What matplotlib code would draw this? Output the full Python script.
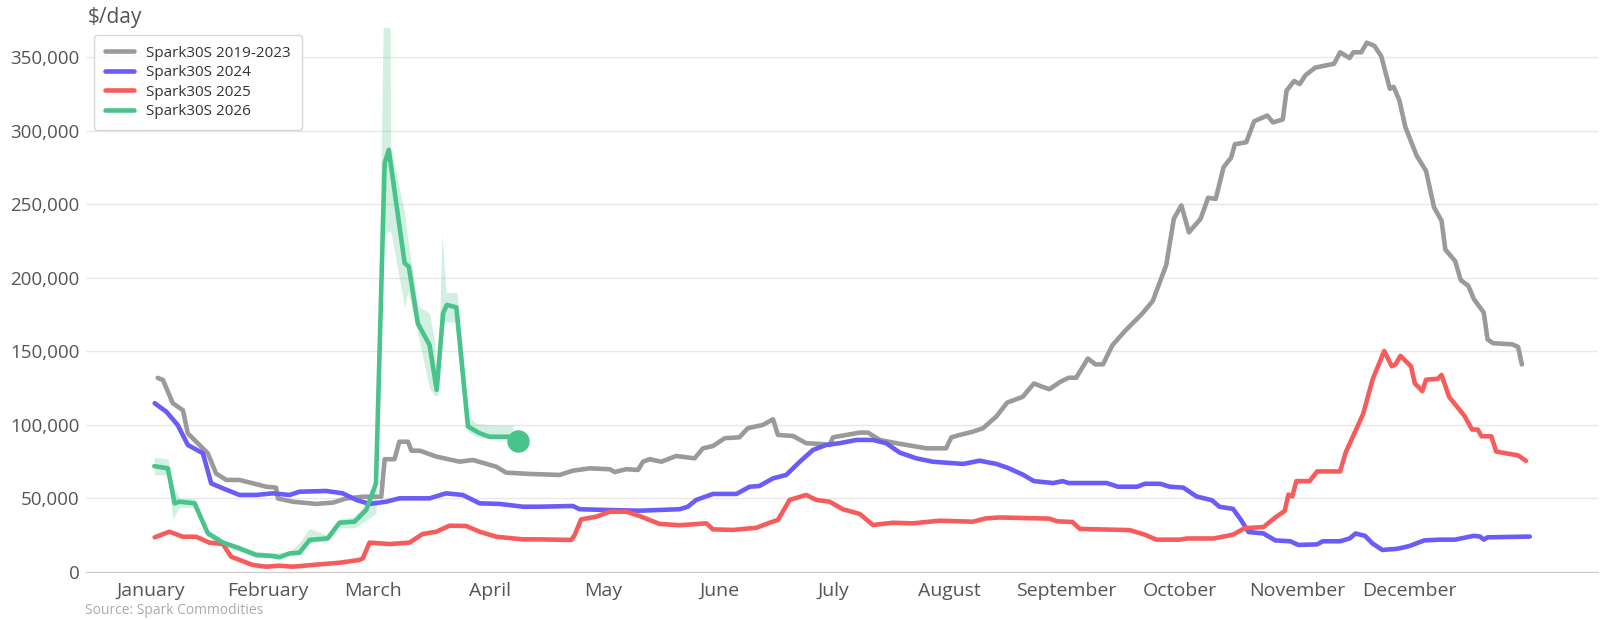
import numpy as np
import matplotlib
matplotlib.use("Agg")
import matplotlib.pyplot as plt
from matplotlib.ticker import FuncFormatter

plt.rcParams['font.family'] = ['Open Sans', 'DejaVu Sans']

# x = day of year, y = $/day
months = ["January", "February", "March", "April", "May", "June", "July",
          "August", "September", "October", "November", "December"]
month_start = [0, 31, 59, 90, 120, 151, 181, 212, 243, 273, 304, 334]

gray = [(1.9, 132000), (3.3, 130600), (5.9, 114800), (8.6, 110000), (9.9, 94300),
        (13.9, 84000), (15.2, 80700), (17.4, 67000), (20.1, 62600), (23.6, 62600),
        (27.1, 60300), (30.7, 58000), (33.3, 57400), (33.8, 50000), (37.7, 47800),
        (44, 46300), (48.4, 47200), (51.9, 50000), (56.3, 51200), (61.2, 51200),
        (62.1, 76700), (64.7, 76700), (66, 88600), (68.3, 88600), (69.2, 82500),
        (71.4, 82500), (75.8, 78500), (82, 75000), (85.5, 76200), (91.7, 71600),
        (94.3, 67600), (100.5, 66700), (108.5, 66000), (112, 68900), (116.4, 70500),
        (121.8, 69900), (123.1, 68000), (126.2, 69900), (129.3, 69400), (130.6, 75000),
        (132.4, 76700), (135.5, 75000), (139.4, 78900), (144.3, 77300), (146.5, 84100),
        (149.2, 85700), (152.3, 91000), (156.2, 91600), (158.4, 97800), (162.4, 100000),
        (165.1, 103900), (166.4, 93200), (170.4, 92500), (173.9, 87600), (177.5, 87100),
        (180.1, 86400), (181, 91600), (184.5, 93200), (188.1, 94800), (190.3, 94800),
        (193.4, 89800), (197.8, 87600), (202.2, 85700), (205.8, 84100), (211, 84100),
        (212.4, 91600), (214.6, 93200), (218.1, 95400), (220.8, 97800), (224.3, 105700),
        (227.2, 115200), (231.3, 119100), (234.3, 128200), (236.4, 126100), (238.4, 124300),
        (241.4, 129500), (243.5, 132100), (245.5, 132100), (248.6, 145200), (250.6, 141200),
        (252.6, 141200), (255.1, 154200), (258.7, 164600), (262.8, 175100), (265.8, 184200),
        (269.4, 208900), (271.4, 240200), (273.4, 249300), (275.4, 231000), (278.5, 240200),
        (280.5, 254500), (282.5, 253700), (284.6, 275300), (286.6, 281800), (287.6, 290900),
        (290.6, 292200), (292.7, 306500), (296.2, 310400), (297.7, 305700), (300.3, 307800),
        (301.3, 327400), (303.3, 333900), (304.8, 331800), (306.3, 337800), (308.9, 343000),
        (311.4, 344300), (313.9, 345600), (315.5, 353400), (318, 349500), (319, 353400),
        (321.1, 353400), (322.6, 359900), (324.6, 357800), (326.4, 350800), (328.7, 328600),
        (329.7, 329900), (331.2, 320800), (332.8, 302600), (335.8, 283100), (338.3, 272700),
        (340.4, 248000), (342.4, 238900), (343.4, 219300), (346, 211500), (347.5, 198500),
        (349.5, 194600), (351, 185500), (353.6, 176400), (354.6, 158200), (356.1, 155600),
        (361.2, 154800), (362.7, 153000), (363.7, 141200)]

blue = [(1.1, 114800), (4.2, 109000), (7.2, 100000), (9.9, 86400), (13.9, 80700),
        (16.1, 60300), (19.2, 56900), (23.6, 52400), (28, 52400), (32.4, 53500),
        (36.9, 52400), (39.5, 54600), (46.6, 55100), (51, 53500), (54.6, 49000),
        (58.1, 46300), (62.5, 47800), (66, 50100), (74, 50100), (78.4, 53500),
        (82.8, 52400), (87.3, 46700), (92.6, 46300), (98.8, 44400), (103.2, 44400),
        (112, 44900), (113.8, 42700), (120.9, 42200), (129.7, 41700), (140.3, 42700),
        (142.5, 44400), (144.7, 49000), (149.2, 53100), (155.4, 53100), (158.9, 58000),
        (161.5, 58500), (165.1, 63700), (168.6, 66000), (172.2, 75000), (175.7, 83000),
        (179.2, 86400), (182.8, 87600), (187.2, 89800), (191.6, 89800), (195.1, 87600),
        (198.7, 81200), (203.1, 77300), (207.5, 75000), (215.5, 73500), (219.9, 75700),
        (224.3, 73500), (227.2, 71000), (231.3, 66300), (234.3, 61800), (239.4, 60500),
        (241.9, 61800), (243.5, 60500), (253.6, 60500), (256.6, 58000), (261.7, 58000),
        (263.7, 60000), (267.8, 60000), (270.3, 58000), (273.9, 57400), (277.4, 51400),
        (281.5, 48800), (283.5, 44400), (287.1, 42900), (289.1, 35800), (291.2, 27200),
        (295.2, 26200), (298.3, 21500), (302.3, 20900), (304.4, 18400), (309.4, 18800),
        (310.9, 20900), (315.5, 20900), (318, 22800), (319.6, 26200), (322.1, 24600),
        (324.1, 19400), (326.7, 15000), (330.7, 15800), (333.8, 17600), (337.8, 21500),
        (341.9, 22000), (345.9, 22000), (351, 24600), (352.6, 24100), (353.6, 22000),
        (354.6, 23600), (365.8, 24100)]

red = [(1.1, 23600), (5, 27400), (8.6, 24000), (12.1, 24000), (15.6, 20000),
       (19.2, 19000), (21.4, 10400), (27.1, 4800), (30.7, 3600), (34.2, 4300),
       (37.7, 3600), (43, 4800), (50.1, 6300), (55.4, 8200), (56.3, 9300),
       (58.1, 20000), (63.4, 19000), (68.7, 20000), (72.2, 25900), (75.8, 27400),
       (79.3, 31500), (83.7, 31300), (87.3, 27400), (91.7, 24000), (98.8, 22200),
       (103.2, 22200), (111.6, 21800), (112.5, 25200), (114.2, 35800), (118.2, 37600),
       (121.8, 41000), (126.2, 41000), (129.7, 38100), (135, 32700), (140.3, 31800),
       (147.4, 33100), (149.2, 29000), (154.5, 28600), (160.7, 30100), (164.2, 33500),
       (166.4, 35400), (169.5, 49000), (173.9, 52400), (176.6, 49000), (180.1, 47800),
       (183.6, 42700), (188.1, 39500), (191.6, 32000), (196.9, 33500), (202.2, 33100),
       (209.3, 34900), (218.1, 34200), (221.6, 36500), (225.2, 37100), (238.4, 36300),
       (240.4, 34500), (244.5, 34000), (246.5, 29300), (259.7, 28500), (263.7, 25400),
       (266.8, 22000), (272.9, 22000), (274.9, 22800), (282, 22800), (287.1, 25400),
       (290.2, 29800), (295.2, 30600), (298.3, 37100), (300.8, 41500), (301.8, 52700),
       (302.8, 51400), (303.9, 61800), (307.4, 61800), (309.4, 68400), (315.5, 68400),
       (317, 81400), (321.6, 107400), (324.1, 130800), (327.2, 150300), (329.2, 139900),
       (330.2, 141200), (331.5, 147000), (334.3, 139900), (335.3, 128400), (337.3, 123000),
       (338.3, 130800), (341.4, 131400), (342.4, 134000), (344.4, 119100), (348.5, 106100),
       (350.5, 96900), (352, 96900), (353, 92300), (355.6, 92300), (356.9, 81900),
       (362.7, 79300), (364.8, 75600)]

green = [(1, 72000), (4.6, 70500), (6.4, 46700), (7.7, 47800), (11.7, 46700),
         (15.2, 26300), (19.2, 20000), (23.6, 16100), (28, 11600), (32.4, 10900),
         (34.2, 10000), (36.9, 12700), (39.5, 13100), (42.2, 21800), (47, 22900),
         (50.1, 33500), (54.1, 34200), (57.2, 42200), (59.8, 60300), (62.1, 278000),
         (63.2, 287000), (67.4, 210000), (68.5, 207700), (70.9, 169000), (74, 154400),
         (75.9, 123800), (77.6, 176000), (78.6, 181600), (81.1, 180000), (84.2, 98900),
         (87.3, 94400), (89.9, 92000), (96.1, 92000), (97.5, 89000)]

# min / max range for 2026
green_band = [(1, 66000, 78000), (4.6, 66000, 77000), (5.9, 36000, 60000),
              (7.7, 44000, 50000), (11.7, 44000, 50000), (15.2, 24000, 29000),
              (19.2, 18000, 22000), (23.6, 14000, 18000), (28, 10000, 14000),
              (32.4, 9500, 13000), (36.9, 11000, 14000), (39.5, 12000, 20000),
              (42.2, 20000, 29700), (47, 21000, 25000), (50.1, 30000, 36000),
              (54.1, 30000, 37600), (57.2, 35000, 47000), (59.8, 40000, 64000),
              (61.8, 230000, 385000), (63.5, 232000, 385000), (63.7, 232000, 289000),
              (67.4, 180000, 244000), (68.3, 191000, 225000), (70.9, 162000, 181000),
              (74, 125000, 176000), (75.3, 120000, 158000), (76.2, 120000, 123000),
              (77.3, 170000, 230000), (78.4, 170000, 190000), (81.3, 170000, 190000),
              (84.4, 95000, 106000), (86.4, 92000, 101000), (90.8, 90000, 100000),
              (96.1, 90000, 100000)]

labels = ["Spark30S 2019-2023", "Spark30S 2024", "Spark30S 2025", "Spark30S 2026"]
colors = ["#9a9a9a", "#6a5cf6", "#f75c5c", "#48c48a"]

fig = plt.figure(figsize=(16, 6.2), dpi=100)
ax = fig.add_axes([0.054, 0.0774, 0.945, 0.8776])

bd, blo, bhi = np.array(green_band).T
ax.fill_between(bd, blo, bhi, color=colors[3], alpha=0.25, lw=0)

for data, lab, c in zip([gray, blue, red, green], labels, colors):
    d, v = np.array(data).T
    ax.plot(d, v, color=c, lw=3.3, label=lab, solid_joinstyle='round', solid_capstyle='round')

gd, gv = np.array(green).T
ax.scatter([gd[-1]], [gv[-1]], s=230, color=colors[3], zorder=5)

ax.set_xlim(-17, 384)
ax.set_ylim(0, 370000)
ax.set_xticks(month_start)
ax.set_xticklabels(months)
ax.set_yticks(np.arange(0, 350001, 50000))
ax.yaxis.set_major_formatter(FuncFormatter(lambda v, p: f"{int(v):,}"))
ax.tick_params(axis='both', length=0, labelcolor="#555555")
ax.tick_params(axis='x', pad=7, labelsize=14)
ax.tick_params(axis='y', pad=5, labelsize=13.5)
ax.grid(axis='y', color="#e8e8e8", lw=1)
ax.set_axisbelow(True)
for s in ["top", "right", "left"]:
    ax.spines[s].set_visible(False)
ax.spines["bottom"].set_color("#cccccc")

leg = ax.legend(loc="upper left", bbox_to_anchor=(0.0053, 0.987), borderaxespad=0,
                fontsize=11, frameon=True, handlelength=1.9, labelspacing=0.3,
                handletextpad=0.8, borderpad=0.7)
leg.get_frame().set_edgecolor("#cccccc")
for t in leg.get_texts():
    t.set_color("#333333")

fig.text(0.055, 0.972, "$/day", fontsize=15, color="#555555", va="center")
fig.text(0.053, 0.016, "Source: Spark Commodities", fontsize=10, color="#aaaaaa", va="center")

fig.savefig("out.png", dpi=100)
